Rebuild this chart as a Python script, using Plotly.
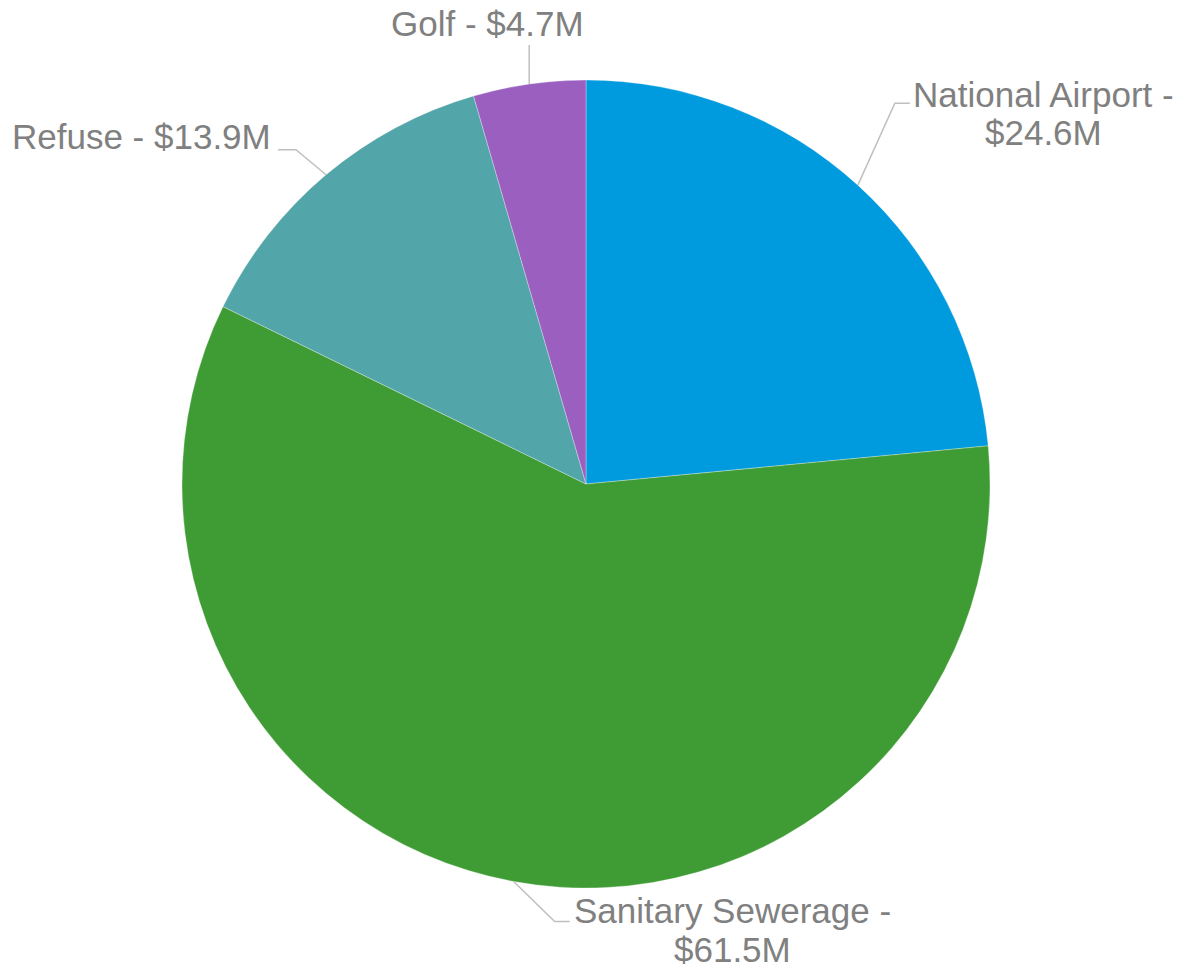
import math
import plotly.graph_objects as go

# ---- data ----
categories = ["National Airport", "Sanitary Sewerage", "Refuse", "Golf"]
values = [24.6, 61.5, 13.9, 4.7]
value_labels = ["$24.6M", "$61.5M", "$13.9M", "$4.7M"]
colors = ["#009BDE", "#3F9C35", "#52A5A8", "#9B5FC0"]

# ---- layout constants (pixels) ----
W, H = 1180, 969
CX, CY, R = 586, 484, 404
FONT = "Liberation Sans, Arial, sans-serif"
FS = 35
TEXT_COLOR = "#808080"
LINE_COLOR = "#BFBFBF"

# label styling: elbow offset, end offset (from elbow), text lines with offsets from end
label_style = {
    "National Airport": dict(elbow=(37, -82), end=(15, 0),
                             lines=[("National Airport -", 134, -9, "center"),
                                    ("{v}", 134, 29, "center")]),
    "Sanitary Sewerage": dict(elbow=(41, 40), end=(15, 0),
                              lines=[("Sanitary Sewerage -", 163, -11, "center"),
                                     ("{v}", 163, 28, "center")]),
    "Refuse": dict(elbow=(-30, -25), end=(-18, 0),
                   lines=[("Refuse - {v}", -5, -13, "right")]),
    "Golf": dict(elbow=(0, -39), end=(0, 0),
                 lines=[("Golf - {v}", -42, -22, "center")]),
}


def px2paper(x, y):
    return x / W, 1 - y / H


fig = go.Figure(go.Pie(
    labels=categories,
    values=values,
    sort=False,
    direction="clockwise",
    rotation=0,
    marker=dict(colors=colors, line=dict(color="rgba(255,255,255,0.6)", width=0.5)),
    textinfo="none",
    hoverinfo="label+value",
    showlegend=False,
    domain=dict(x=[(CX - R) / W, (CX + R) / W], y=[1 - (CY + R) / H, 1 - (CY - R) / H]),
))

total = sum(values)
cum = 0.0
shapes = []
annotations = []
for cat, val, vl in zip(categories, values, value_labels):
    mid = (cum + val / 2) / total * 2 * math.pi
    cum += val
    px = CX + R * math.sin(mid)
    py = CY - R * math.cos(mid)
    st = label_style[cat]
    ex, ey = px + st["elbow"][0], py + st["elbow"][1]
    fx, fy = ex + st["end"][0], ey + st["end"][1]
    pts = [px2paper(px, py), px2paper(ex, ey), px2paper(fx, fy)]
    path = "M {} {} L {} {} L {} {}".format(*[c for p in pts for c in p])
    shapes.append(dict(type="path", xref="paper", yref="paper", path=path,
                       line=dict(color=LINE_COLOR, width=1.5)))
    for txt, dx, dy, anchor in st["lines"]:
        ax, ay = px2paper(fx + dx, fy + dy)
        annotations.append(dict(
            x=ax, y=ay, xref="paper", yref="paper", showarrow=False,
            text=txt.format(v=vl), xanchor=anchor, yanchor="middle",
            font=dict(family=FONT, size=FS, color=TEXT_COLOR),
        ))

fig.update_layout(
    width=W, height=H,
    margin=dict(l=0, r=0, t=0, b=0),
    paper_bgcolor="white",
    plot_bgcolor="white",
    shapes=shapes,
    annotations=annotations,
)

fig.write_html("out.html")
